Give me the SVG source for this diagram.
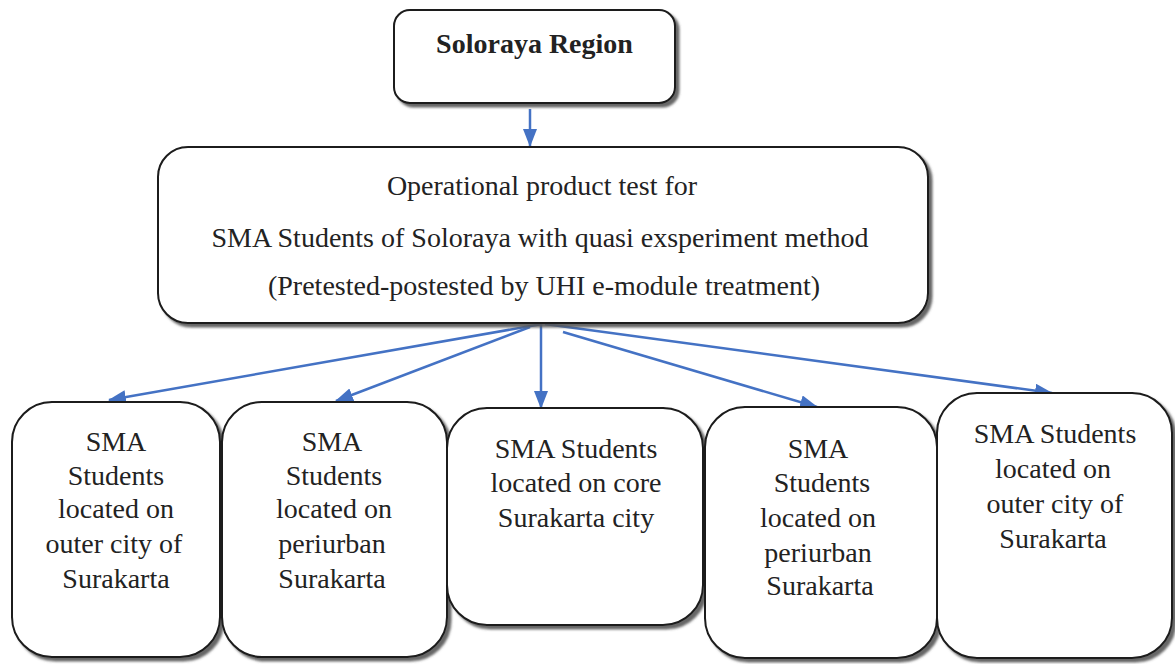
<svg xmlns="http://www.w3.org/2000/svg" width="1175" height="664" viewBox="0 0 1175 664">
  <style>
    .box { fill: #ffffff; stroke: #1a1a1a; stroke-width: 2; filter: url(#shadow); }
    .t { font-family: "Liberation Serif", "DejaVu Serif", serif; font-size: 28px; fill: #222222; text-anchor: middle; }
    .tb { font-weight: bold; font-size: 28px; }
    .conn { stroke: #4472C4; stroke-width: 2.5; fill: none; marker-end: url(#arrow); }
  </style>
  <defs>
    <filter id="shadow" x="-10%" y="-10%" width="130%" height="130%">
      <feDropShadow dx="3.5" dy="3.5" stdDeviation="1" flood-color="#555555" flood-opacity="0.9"/>
    </filter>
    <marker id="arrow" markerUnits="userSpaceOnUse" markerWidth="20" markerHeight="16" refX="17" refY="7" orient="auto">
      <path d="M0,0 L18,7 L0,14 Z" fill="#4472C4"/>
    </marker>
  </defs>
  <rect width="1175" height="664" fill="#ffffff"/>

  <g id="connectors">
    <line class="conn" x1="530" y1="109" x2="530" y2="146"/>
    <line class="conn" x1="542" y1="324" x2="109" y2="400"/>
    <line class="conn" x1="530" y1="327" x2="336" y2="401"/>
    <line class="conn" x1="541" y1="324" x2="541" y2="408"/>
    <line class="conn" x1="563" y1="332" x2="817" y2="407"/>
    <line class="conn" x1="545" y1="324" x2="1052" y2="393"/>
  </g>

  <g id="node-soloraya">
    <rect class="box" x="394" y="10" width="281" height="93" rx="16" ry="16"/>
    <text class="t tb" x="534.5" y="53">Soloraya Region</text>
  </g>

  <g id="node-test">
    <rect class="box" x="158" y="147" width="770" height="176" rx="30" ry="30"/>
    <text class="t" x="542" y="195">Operational product test for</text>
    <text class="t" x="540" y="247">SMA Students of Soloraya with quasi exsperiment method</text>
    <text class="t" x="544" y="295">(Pretested-postested by UHI e-module treatment)</text>
  </g>

  <g id="node-outer-1">
    <rect class="box" x="12" y="402" width="208" height="255" rx="40" ry="40"/>
    <text class="t" x="116" y="451">SMA</text>
    <text class="t" x="116" y="485">Students</text>
    <text class="t" x="116" y="518">located on</text>
    <text class="t" x="114" y="553">outer city of</text>
    <text class="t" x="116" y="588">Surakarta</text>
  </g>

  <g id="node-periurban-1">
    <rect class="box" x="222" y="402" width="225" height="255" rx="40" ry="40"/>
    <text class="t" x="332" y="451">SMA</text>
    <text class="t" x="334" y="485">Students</text>
    <text class="t" x="334" y="518">located on</text>
    <text class="t" x="332" y="553">periurban</text>
    <text class="t" x="332" y="588">Surakarta</text>
  </g>

  <g id="node-core">
    <rect class="box" x="447" y="408" width="256" height="217" rx="40" ry="40"/>
    <text class="t" x="576" y="458">SMA Students</text>
    <text class="t" x="576" y="492">located on core</text>
    <text class="t" x="576" y="527">Surakarta city</text>
  </g>

  <g id="node-periurban-2">
    <rect class="box" x="705" y="407" width="232" height="251" rx="40" ry="40"/>
    <text class="t" x="818" y="458">SMA</text>
    <text class="t" x="822" y="492">Students</text>
    <text class="t" x="818" y="527">located on</text>
    <text class="t" x="818" y="562">periurban</text>
    <text class="t" x="820" y="595">Surakarta</text>
  </g>

  <g id="node-outer-2">
    <rect class="box" x="937" y="393" width="235" height="265" rx="40" ry="40"/>
    <text class="t" x="1055" y="443">SMA Students</text>
    <text class="t" x="1053" y="478">located on</text>
    <text class="t" x="1055" y="513">outer city of</text>
    <text class="t" x="1053" y="548">Surakarta</text>
  </g>
</svg>
